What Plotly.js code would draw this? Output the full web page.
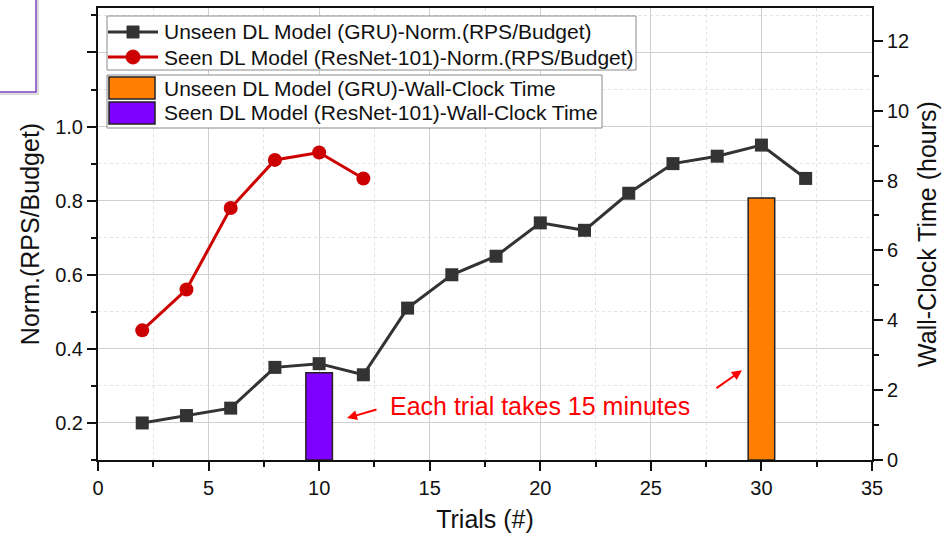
<!DOCTYPE html>
<html>
<head>
<meta charset="utf-8">
<script src="https://cdn.plot.ly/plotly-3.0.1.min.js"></script>
<style>html,body{margin:0;padding:0;background:#fff;}#chart{width:943px;height:537px;}</style>
</head>
<body>
<div id="chart"></div>
<script>
// ---- data ----
const unseenTrials = [2,4,6,8,10,12,14,16,18,20,22,24,26,28,30,32];
const unseenNorm   = [0.20,0.22,0.24,0.35,0.36,0.33,0.51,0.60,0.65,0.74,0.72,0.82,0.90,0.92,0.95,0.86];
const seenTrials   = [2,4,6,8,10,12];
const seenNorm     = [0.45,0.56,0.78,0.91,0.93,0.86];
const unseenWallTrial = [30];
const unseenWallHours = [7.5];
const seenWallTrial   = [10];
const seenWallHours   = [2.5];
const leftTickVals  = [0.2,0.4,0.6,0.8,1.0,1.2];
const leftTickText  = ['0.2','0.4','0.6','0.8','1.0',''];
const seriesNames = [
  'Unseen DL Model (GRU)-Norm.(RPS/Budget)',
  'Seen DL Model (ResNet-101)-Norm.(RPS/Budget)',
  'Unseen DL Model (GRU)-Wall-Clock Time',
  'Seen DL Model (ResNet-101)-Wall-Clock Time'
];
const seriesColors = ['#333333', '#cc0000', '#ff8000', '#8000ff'];

const FONT = 'Liberation Sans, Arial, sans-serif';

const traces = [
  {type:'scatter', mode:'lines+markers', x:unseenTrials, y:unseenNorm, name:seriesNames[0], showlegend:false,
   line:{color:seriesColors[0], width:3}, marker:{symbol:'square', size:13, color:seriesColors[0]}},
  {type:'scatter', mode:'lines+markers', x:seenTrials, y:seenNorm, name:seriesNames[1], showlegend:false,
   line:{color:seriesColors[1], width:3}, marker:{symbol:'circle', size:14, color:seriesColors[1]}},
  {type:'bar', x:unseenWallTrial, y:unseenWallHours, yaxis:'y2', width:1.2, name:seriesNames[2], showlegend:false,
   marker:{color:seriesColors[2], line:{color:'#222', width:1.5}}},
  {type:'bar', x:seenWallTrial, y:seenWallHours, yaxis:'y2', width:1.2, name:seriesNames[3], showlegend:false,
   marker:{color:seriesColors[3], line:{color:'#222', width:1.5}}}
];

// ---- custom boxed legends (paper coords from pixel layout) ----
const PL = 98, PR = 872, PT = 8, PB = 460;
const px = X => (X - PL) / (PR - PL);
const py = Y => (PB - Y) / (PB - PT);

const shapes = [
  // cropped purple frame at top-left
  {type:'rect', xref:'paper', yref:'paper', x0:-0.16, x1:px(38), y0:py(94), y1:1.1,
   line:{color:'#dcdcdc', width:2}, layer:'above'},
  {type:'rect', xref:'paper', yref:'paper', x0:-0.16, x1:px(36), y0:py(92), y1:1.1,
   line:{color:'#7b3fc4', width:1.5}, layer:'above'},
  // legend boxes
  {type:'rect', xref:'paper', yref:'paper', x0:px(107), x1:px(636), y0:py(70), y1:py(16),
   fillcolor:'#fff', line:{color:'#8a8a8a', width:1}, layer:'above'},
  {type:'rect', xref:'paper', yref:'paper', x0:px(107), x1:px(602), y0:py(128), y1:py(75),
   fillcolor:'#fff', line:{color:'#8a8a8a', width:1}, layer:'above'}
];
const annotations = [];
const rowsY = [32, 57, 88, 113];
// line+marker symbols
[0,1].forEach(i => {
  const yy = rowsY[i];
  shapes.push({type:'line', xref:'paper', yref:'paper', x0:px(108), x1:px(158), y0:py(yy), y1:py(yy),
    line:{color:seriesColors[i], width:3}, layer:'above'});
  shapes.push({type: i === 0 ? 'rect' : 'circle', xref:'paper', yref:'paper',
    x0:px(i === 0 ? 127 : 126), x1:px(i === 0 ? 139 : 140),
    y0:py(yy + (i === 0 ? 6 : 7)), y1:py(yy - (i === 0 ? 6 : 7)),
    fillcolor:seriesColors[i], line:{color:seriesColors[i], width:1}, layer:'above'});
});
// bar symbols
[2,3].forEach(i => {
  const yy = rowsY[i];
  shapes.push({type:'rect', xref:'paper', yref:'paper', x0:px(109), x1:px(155), y0:py(yy + 11), y1:py(yy - 11),
    fillcolor:seriesColors[i], line:{color:'#222', width:1.5}, layer:'above'});
});
seriesNames.forEach((name, i) => {
  annotations.push({xref:'paper', yref:'paper', x:px(162), y:py(rowsY[i]), xanchor:'left', yanchor:'middle',
    text:name, showarrow:false, font:{size:21, color:'#111'}});
});
annotations.push(
  {xref:'x', yref:'y2', x:20, y:1.54, text:'Each trial takes 15 minutes', showarrow:false,
   font:{size:25, color:'#ff0000'}},
  {xref:'x', yref:'y2', x:11.26, y:1.2, ax:31, ay:-9, text:'', showarrow:true,
   arrowhead:2, arrowsize:1, arrowwidth:2, arrowcolor:'#ff0000'},
  {xref:'x', yref:'y2', x:29.12, y:2.57, ax:-27, ay:19, text:'', showarrow:true,
   arrowhead:2, arrowsize:1, arrowwidth:2, arrowcolor:'#ff0000'}
);

const layout = {
  width:943, height:537,
  margin:{l:98, r:71, t:8, b:77},
  paper_bgcolor:'#fff', plot_bgcolor:'#fff',
  font:{family:FONT, color:'#111', size:20},
  showlegend:false,
  xaxis:{range:[0,35], dtick:5, tick0:0, ticks:'outside', ticklen:9, tickwidth:2, tickcolor:'#111',
         showline:true, linewidth:2, linecolor:'#111', mirror:true, zeroline:false,
         showgrid:true, gridcolor:'#cfcfcf', gridwidth:1,
         minor:{dtick:2.5, ticks:'outside', ticklen:5, tickwidth:2, tickcolor:'#111', showgrid:true, gridcolor:'#e2e2e2', griddash:'dot'},
         tickfont:{size:20}, title:{text:'Trials (#)', font:{size:25}, standoff:12}},
  yaxis:{range:[0.1,1.32], tickmode:'array', tickvals:leftTickVals, ticktext:leftTickText,
         ticks:'outside', ticklen:9, tickwidth:2, tickcolor:'#111',
         showline:true, linewidth:2, linecolor:'#111', zeroline:false,
         showgrid:true, gridcolor:'#cfcfcf', gridwidth:1,
         minor:{tick0:0.1, dtick:0.1, ticks:'outside', ticklen:5, tickwidth:2, tickcolor:'#111', showgrid:true, gridcolor:'#e2e2e2', griddash:'dot'},
         tickfont:{size:20}, title:{text:'Norm.(RPS/Budget)', font:{size:25}, standoff:8}},
  yaxis2:{range:[0,12.94], dtick:2, tick0:0, overlaying:'y', side:'right',
         ticks:'outside', ticklen:9, tickwidth:2, tickcolor:'#111',
         showline:true, linewidth:2, linecolor:'#111', zeroline:false, showgrid:false,
         minor:{dtick:1, ticks:'outside', ticklen:5, tickwidth:2, tickcolor:'#111', showgrid:false},
         tickfont:{size:20}, title:{text:'Wall-Clock Time (hours)', font:{size:25}, standoff:10}},
  annotations: annotations,
  shapes: shapes
};

Plotly.newPlot('chart', traces, layout, {displayModeBar:false, staticPlot:true});
</script>
</body>
</html>
